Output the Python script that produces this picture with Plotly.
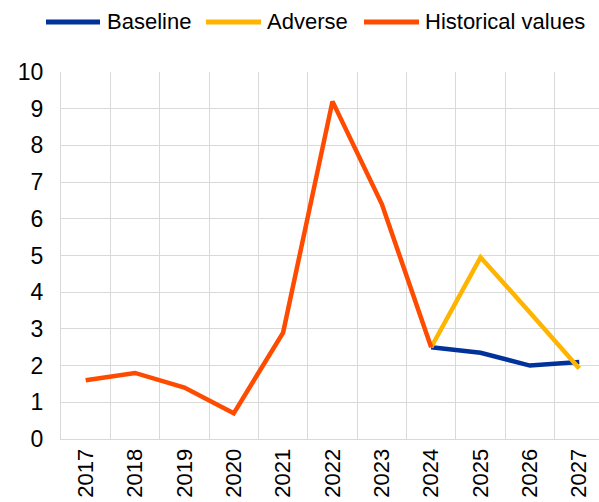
import plotly.graph_objects as go

years = ["2017", "2018", "2019", "2020", "2021", "2022", "2023", "2024", "2025", "2026", "2027"]
hist_years = years[:8]
hist_values = [1.6, 1.8, 1.4, 0.7, 2.9, 9.2, 6.4, 2.5]
scen_years = years[7:]
baseline_values = [2.5, 2.35, 2.0, 2.1]
adverse_values = [2.5, 4.95, 3.45, 1.92]

series_names = ["Baseline", "Adverse", "Historical values"]
series_colors = ["#003299", "#FFB400", "#FF4B00"]

W, H = 599, 502
ML, MR, MT, MB = 61, 0, 72, 63
PW = W - ML - MR
PH = H - MT - MB

fig = go.Figure()
fig.add_trace(go.Scatter(x=scen_years, y=baseline_values, mode="lines", name=series_names[0],
                         line=dict(color=series_colors[0], width=4.5), showlegend=False))
fig.add_trace(go.Scatter(x=scen_years, y=adverse_values, mode="lines", name=series_names[1],
                         line=dict(color=series_colors[1], width=4.5), showlegend=False))
fig.add_trace(go.Scatter(x=hist_years, y=hist_values, mode="lines", name=series_names[2],
                         line=dict(color=series_colors[2], width=4.5), showlegend=False))

# custom legend (pixel positions converted to paper coords)
leg_y_px = 22
leg_items = [(46, 100, 105), (206, 261, 265), (364, 419, 423)]
def px_x(p):
    return (p - ML) / PW
def px_y(p):
    return (H - MB - p) / PH
for (x0, x1, xt), name, col in zip(leg_items, series_names, series_colors):
    fig.add_shape(type="line", xref="paper", yref="paper",
                  x0=px_x(x0), x1=px_x(x1), y0=px_y(leg_y_px), y1=px_y(leg_y_px),
                  line=dict(color=col, width=5))
    fig.add_annotation(xref="paper", yref="paper", x=px_x(xt), y=px_y(leg_y_px),
                       xanchor="left", yanchor="middle", text=name, showarrow=False,
                       font=dict(size=22, color="black"))

fig.update_layout(
    width=W, height=H,
    margin=dict(l=ML, r=MR, t=MT, b=MB, autoexpand=False),
    paper_bgcolor="white", plot_bgcolor="white",
    font=dict(family="Liberation Sans, Arial, sans-serif", size=22, color="black"),
    showlegend=False,
)
fig.update_xaxes(type="category", categoryorder="array", categoryarray=years,
                 tickson="boundaries", showgrid=True, gridcolor="#d9d9d9", gridwidth=1,
                 tickangle=-90, ticks="", showline=True, linecolor="#d9d9d9",
                 tickfont=dict(size=22), range=[-0.5, 10.4], automargin=False)
fig.update_yaxes(range=[0, 10], dtick=1, showgrid=True, gridcolor="#d9d9d9", gridwidth=1,
                 zeroline=False, showline=True, linecolor="#d9d9d9", ticks="",
                 tickfont=dict(size=23), automargin=False, ticklabelstandoff=12)

fig.write_html("out.html", config={"displayModeBar": False},
               post_script="document.body.style.margin='0';document.body.style.overflow='hidden';")
